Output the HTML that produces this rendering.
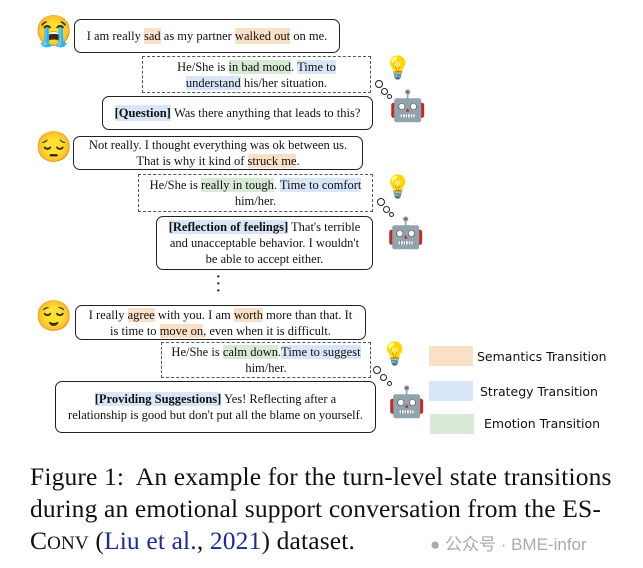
<!DOCTYPE html>
<html><head><meta charset="utf-8"><style>
body{margin:0;width:643px;height:568px;background:#fff;position:relative;overflow:hidden;font-family:"Liberation Serif",serif;color:#111}
.b{position:absolute;box-sizing:border-box;border:1.3px solid #222;border-radius:7px;font-size:12.5px;line-height:16px;text-align:center;display:flex;align-items:center;justify-content:center;padding:0 3px}
.d{border:1.2px dashed #555;border-radius:0}
.o{background:#fbe0c8}.bl{background:#d8e6f8}.g{background:#d8ead5}
.e{position:absolute;font-size:30px;line-height:34px;font-family:"Noto Color Emoji","DejaVu Sans",sans-serif}
.s{position:absolute;font-size:22px;line-height:24px}
.c{position:absolute;border:1.2px solid #222;border-radius:50%;background:#fff}
.lg{position:absolute;width:44px;height:20px}
.lt{position:absolute;font-family:"DejaVu Sans",sans-serif;font-size:12.5px}
.cap{position:absolute;left:30px;font-size:25.5px;line-height:32px;white-space:nowrap;letter-spacing:0.15px}
</style></head><body>
<div class="e" style="left:35px;top:15px">😭</div>
<div class="b" style="left:74px;top:19px;width:266px;height:34px">I am really&nbsp;<span class="o">sad</span>&nbsp;as my partner&nbsp;<span class="o">walked out</span>&nbsp;on me.</div>
<div class="b d" style="left:142px;top:56px;width:229px;height:37px"><div>He/She is <span class="g">in bad mood</span>. <span class="bl">Time to<br>understand</span> his/her situation.</div></div>
<div class="s" style="left:384px;top:56px">💡</div>
<div class="c" style="left:375px;top:80px;width:6px;height:6px"></div><div class="c" style="left:381px;top:88px;width:5px;height:5px"></div><div class="c" style="left:387px;top:94px;width:3px;height:3px"></div>
<div class="e" style="left:389px;top:90px">🤖</div>
<div class="b" style="left:102px;top:96px;width:271px;height:34px"><span class="bl"><b>[Question]</b></span>&nbsp;Was there anything that leads to this?</div>

<div class="e" style="left:35px;top:131px">😔</div>
<div class="b" style="left:73px;top:136px;width:290px;height:34px"><div>Not really. I thought everything was ok between us.<br>That is why it kind of <span class="o">struck me</span>.</div></div>
<div class="b d" style="left:138px;top:174px;width:235px;height:38px"><div>He/She is <span class="g">really in tough</span>. <span class="bl">Time to comfort</span><br>him/her.</div></div>
<div class="s" style="left:384px;top:175px">💡</div>
<div class="c" style="left:377px;top:198px;width:6px;height:6px"></div><div class="c" style="left:383px;top:206px;width:5px;height:5px"></div><div class="c" style="left:389px;top:212px;width:3px;height:3px"></div>
<div class="e" style="left:387px;top:217px">🤖</div>
<div class="b" style="left:156px;top:216px;width:217px;height:54px"><div><span class="bl"><b>[Reflection of feelings]</b></span> That's terrible<br>and unacceptable behavior. I wouldn't<br>be able to accept either.</div></div>
<div style="position:absolute;left:216px;top:274px;font-size:14px;line-height:7px;font-weight:bold">·<br>·<br>·</div>

<div class="e" style="left:35px;top:300px">😌</div>
<div class="b" style="left:75px;top:305px;width:291px;height:35px"><div>I really <span class="o">agree</span> with you. I am <span class="o">worth</span> more than that. It<br>is time to <span class="o">move on</span>, even when it is difficult.</div></div>
<div class="b d" style="left:161px;top:342px;width:210px;height:36px"><div>He/She is <span class="g">calm down</span>.<span class="bl">Time to suggest</span><br>him/her.</div></div>
<div class="s" style="left:381px;top:342px">💡</div>
<div class="c" style="left:373px;top:366px;width:6px;height:6px"></div><div class="c" style="left:380px;top:374px;width:5px;height:5px"></div><div class="c" style="left:387px;top:381px;width:3px;height:3px"></div>
<div class="e" style="left:388px;top:386px">🤖</div>
<div class="b" style="left:55px;top:381px;width:321px;height:52px"><div><span class="bl"><b>[Providing Suggestions]</b></span> Yes! Reflecting after a<br>relationship is good but don't put all the blame on yourself.</div></div>

<div class="lg o" style="left:429px;top:346px"></div><div class="lt" style="left:477px;top:349px">Semantics Transition</div>
<div class="lg bl" style="left:429px;top:381px"></div><div class="lt" style="left:480px;top:384px">Strategy Transition</div>
<div class="lg g" style="left:430px;top:414px"></div><div class="lt" style="left:484px;top:416px">Emotion Transition</div>

<div class="cap" style="top:461px">Figure 1:&nbsp; An example for the turn-level state transitions</div>
<div class="cap" style="top:493px">during an emotional support conversation from the ES-</div>
<div class="cap" style="top:525px">C<span style="font-size:19px">ONV</span> (<span style="color:#1a2a9a">Liu et al.</span>, <span style="color:#1a2a9a">2021</span>) dataset.</div>
<div style="position:absolute;left:430px;top:530px;font-family:'Liberation Sans','Noto Sans CJK SC',sans-serif;font-size:17px;color:#aaa">● 公众号 · BME-infor</div>
</body></html>
